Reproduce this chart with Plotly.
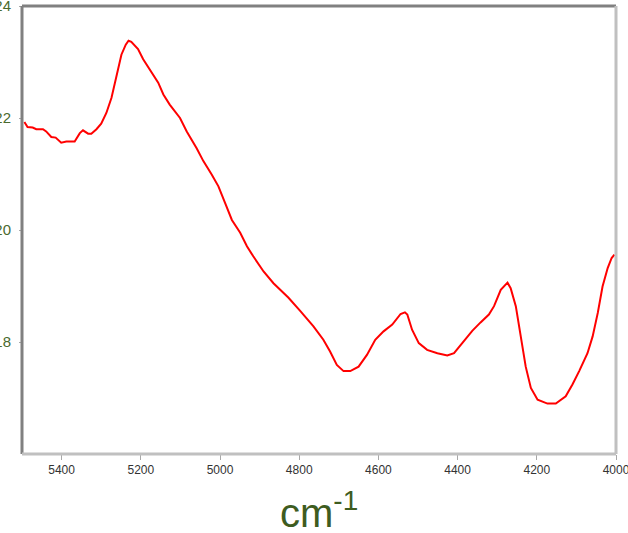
import plotly.graph_objects as go

wavenumber = [5494, 5486, 5473, 5464, 5447, 5439, 5426, 5415, 5401, 5388, 5367, 5354, 5346, 5333, 5325,
              5312, 5300, 5287, 5274, 5262, 5249, 5238, 5231, 5224, 5207, 5194, 5182, 5173, 5156, 5143,
              5127, 5101, 5084, 5059, 5042, 5021, 5004, 4987, 4970, 4949, 4932, 4916, 4890, 4865, 4827,
              4797, 4764, 4739, 4722, 4705, 4688, 4671, 4650, 4629, 4608, 4587, 4565, 4544, 4533, 4527,
              4515, 4498, 4477, 4451, 4426, 4409, 4384, 4363, 4342, 4321, 4308, 4291, 4274, 4266, 4253,
              4241, 4228, 4215, 4198, 4173, 4152, 4127, 4110, 4093, 4072, 4059, 4046, 4034, 4021, 4011, 4004]
signal = [21.93, 21.84, 21.83, 21.80, 21.80, 21.76, 21.66, 21.65, 21.56, 21.58, 21.58, 21.73, 21.78, 21.72, 21.72,
          21.80, 21.90, 22.09, 22.36, 22.74, 23.13, 23.31, 23.38, 23.36, 23.23, 23.05, 22.92, 22.80, 22.63, 22.42,
          22.24, 22.00, 21.76, 21.46, 21.23, 20.99, 20.78, 20.48, 20.18, 19.95, 19.71, 19.53, 19.26, 19.05, 18.79,
          18.55, 18.28, 18.04, 17.83, 17.59, 17.48, 17.48, 17.56, 17.77, 18.04, 18.19, 18.31, 18.50, 18.53, 18.49,
          18.22, 17.98, 17.86, 17.80, 17.76, 17.80, 18.01, 18.20, 18.35, 18.49, 18.64, 18.93, 19.06, 18.96, 18.64,
          18.10, 17.56, 17.18, 16.97, 16.90, 16.90, 17.03, 17.24, 17.48, 17.80, 18.10, 18.52, 18.99, 19.32, 19.50, 19.56]

x_ticks = [5400, 5200, 5000, 4800, 4600, 4400, 4200, 4000]
y_ticks = [18, 20, 22, 24]
x_title = "cm<sup>-1</sup>"

fig = go.Figure()
fig.add_trace(go.Scatter(x=wavenumber, y=signal, mode="lines",
                         line=dict(color="#ff0000", width=2), hoverinfo="skip"))

fig.update_layout(
    width=628, height=533,
    margin=dict(l=22, r=12, t=6, b=79, autoexpand=False),
    paper_bgcolor="white", plot_bgcolor="white",
    showlegend=False,
    xaxis=dict(range=[5500, 4000], tickvals=x_ticks, ticktext=[str(v) for v in x_ticks],
               automargin=False, ticklabeloverflow="allow",
               showgrid=False, zeroline=False, showline=False,
               ticks="outside", ticklen=5, tickcolor="#a8a8a8", tickwidth=1,
               tickfont=dict(family="Liberation Sans", size=12, color="#333333")),
    yaxis=dict(range=[16, 24], tickvals=y_ticks, ticktext=[str(v) for v in y_ticks],
               automargin=False, ticklabeloverflow="allow",
               showgrid=False, zeroline=False, showline=False,
               ticks="outside", ticklen=2, tickcolor="#a8a8a8", tickwidth=1,
               ticklabelstandoff=5,
               tickfont=dict(family="Liberation Sans", size=15, color="#4a6a2e")),
    annotations=[dict(text=x_title, xref="paper", yref="paper", x=0.5, y=-0.125,
                      xanchor="center", yanchor="middle", showarrow=False,
                      font=dict(family="Liberation Sans", size=40, color="#3e5c1f"))],
    shapes=[
        dict(type="line", xref="paper", yref="paper", x0=0, x1=0, y0=0, y1=1,
             line=dict(color="#808080", width=3)),
        dict(type="line", xref="paper", yref="paper", x0=0, x1=1, y0=1, y1=1,
             line=dict(color="#808080", width=3)),
        dict(type="line", xref="paper", yref="paper", x0=1, x1=1, y0=0, y1=1,
             line=dict(color="#c0c0c0", width=3)),
        dict(type="line", xref="paper", yref="paper", x0=0, x1=1, y0=0, y1=0,
             line=dict(color="#c0c0c0", width=3)),
    ],
)

fig.write_html("out.html", config={"displayModeBar": False},
               post_script="document.body.style.margin='0';document.body.style.overflow='hidden';")
